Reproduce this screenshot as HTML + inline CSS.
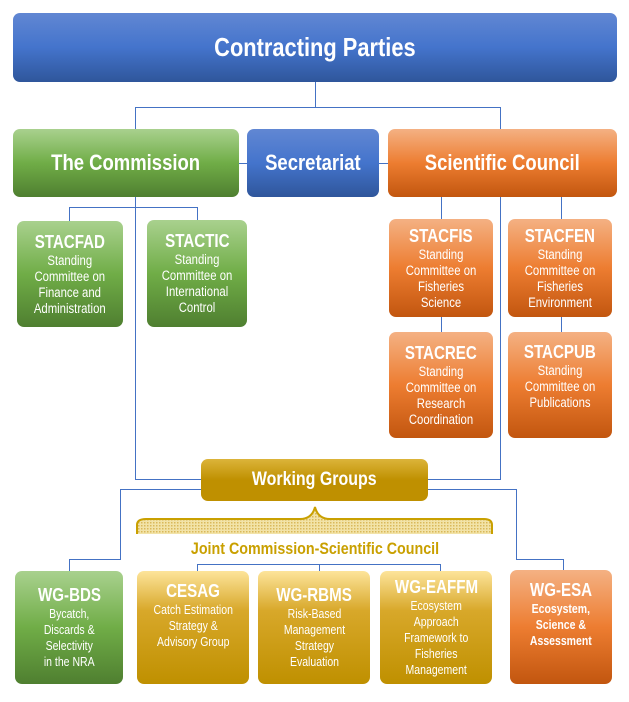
<!DOCTYPE html>
<html><head><meta charset="utf-8"><style>
body{margin:0;width:629px;height:702px;background:#fff;position:relative;overflow:hidden;font-family:"Liberation Sans Narrow","Liberation Sans",sans-serif;}
.b{position:absolute;border-radius:7px;color:#fff;text-align:center;box-sizing:border-box;display:flex;flex-direction:column;align-items:center;justify-content:center;font-weight:bold;}
.b span{display:inline-block;transform:scaleX(.84);white-space:nowrap;}
.blue{background:linear-gradient(#6187d3,#4474cc 50%,#2f569b);}
.green{background:linear-gradient(#a9d18e,#70ad47 50%,#4f7f30);}
.orange{background:linear-gradient(#f4b183,#ed7d31 50%,#c2560f);}
.gold{background:linear-gradient(#fde49a,#d8a82a 35%,#bf9000);}
.t{font-size:22px;}
.h{font-size:18px;}
.s{font-size:13.5px;font-weight:normal;line-height:16px;}
.l{position:absolute;background:#4472c4;}
</style></head><body>
<div class="l" style="left:315px;top:82px;width:1px;height:25px"></div>
<div class="l" style="left:135px;top:107px;width:366px;height:1px"></div>
<div class="l" style="left:135px;top:107px;width:1px;height:22px"></div>
<div class="l" style="left:500px;top:107px;width:1px;height:22px"></div>
<div class="l" style="left:239px;top:163px;width:149px;height:1px"></div>
<div class="l" style="left:135px;top:197px;width:1px;height:283px"></div>
<div class="l" style="left:135px;top:479px;width:66px;height:1px"></div>
<div class="l" style="left:69px;top:207px;width:129px;height:1px"></div>
<div class="l" style="left:69px;top:207px;width:1px;height:14px"></div>
<div class="l" style="left:197px;top:207px;width:1px;height:14px"></div>
<div class="l" style="left:500px;top:197px;width:1px;height:283px"></div>
<div class="l" style="left:428px;top:479px;width:73px;height:1px"></div>
<div class="l" style="left:441px;top:197px;width:1px;height:135px"></div>
<div class="l" style="left:561px;top:197px;width:1px;height:135px"></div>
<div class="l" style="left:120px;top:489px;width:81px;height:1px"></div>
<div class="l" style="left:120px;top:489px;width:1px;height:70px"></div>
<div class="l" style="left:69px;top:559px;width:52px;height:1px"></div>
<div class="l" style="left:69px;top:559px;width:1px;height:12px"></div>
<div class="l" style="left:428px;top:489px;width:88px;height:1px"></div>
<div class="l" style="left:516px;top:489px;width:1px;height:70px"></div>
<div class="l" style="left:516px;top:559px;width:47px;height:1px"></div>
<div class="l" style="left:563px;top:559px;width:1px;height:12px"></div>
<div class="l" style="left:197px;top:564px;width:243px;height:1px"></div>
<div class="l" style="left:197px;top:564px;width:1px;height:7px"></div>
<div class="l" style="left:319px;top:564px;width:1px;height:7px"></div>
<div class="l" style="left:440px;top:564px;width:1px;height:7px"></div>

<div class="b blue" style="left:13px;top:13px;width:604px;height:69px"><span style="font-size:26px">Contracting Parties</span></div>
<div class="b green" style="left:13px;top:129px;width:226px;height:68px"><span class="t">The Commission</span></div>
<div class="b blue" style="left:247px;top:129px;width:132px;height:68px"><span class="t">Secretariat</span></div>
<div class="b orange" style="left:388px;top:129px;width:229px;height:68px"><span class="t">Scientific Council</span></div>

<div class="b green" style="left:17px;top:221px;width:106px;height:106px"><span class="h">STACFAD</span><span class="s">Standing<br>Committee on<br>Finance and<br>Administration</span></div>
<div class="b green" style="left:147px;top:220px;width:100px;height:107px"><span class="h">STACTIC</span><span class="s">Standing<br>Committee on<br>International<br>Control</span></div>
<div class="b orange" style="left:389px;top:219px;width:104px;height:98px"><span class="h">STACFIS</span><span class="s">Standing<br>Committee on<br>Fisheries<br>Science</span></div>
<div class="b orange" style="left:508px;top:219px;width:104px;height:98px"><span class="h">STACFEN</span><span class="s">Standing<br>Committee on<br>Fisheries<br>Environment</span></div>
<div class="b orange" style="left:389px;top:332px;width:104px;height:106px"><span class="h">STACREC</span><span class="s">Standing<br>Committee on<br>Research<br>Coordination</span></div>
<div class="b orange" style="left:508px;top:332px;width:104px;height:106px;justify-content:flex-start;padding-top:10px"><span class="h">STACPUB</span><span class="s">Standing<br>Committee on<br>Publications</span></div>

<div class="b gold" style="left:201px;top:459px;width:227px;height:42px;background:linear-gradient(#dcb43a,#bf9000 50%)"><span style="font-size:19px">Working Groups</span></div>

<svg style="position:absolute;left:0;top:0" width="629" height="702">
<defs><pattern id="d" width="3" height="3" patternUnits="userSpaceOnUse"><rect width="3" height="3" fill="#f2e3a8"/><rect width="1.5" height="1.5" fill="#d9b85a"/></pattern></defs>
<path d="M137 534 L137 525 Q137 519 146 519 L300 519 Q312 519 315 507 Q318 519 330 519 L484 519 Q492 519 492 525 L492 534" fill="url(#d)" stroke="#c9a000" stroke-width="2"/>
<text x="315" y="554" text-anchor="middle" font-family="Liberation Sans Narrow, Liberation Sans, sans-serif" font-weight="bold" font-size="17" fill="#c9a000" transform="translate(315 0) scale(.84 1) translate(-315 0)">Joint Commission-Scientific Council</text>
</svg>

<div class="b green" style="left:15px;top:571px;width:108px;height:113px"><span class="h">WG-BDS</span><span class="s" style="font-size:12.5px">Bycatch,<br>Discards &amp;<br>Selectivity<br>in the NRA</span></div>
<div class="b gold" style="left:137px;top:571px;width:112px;height:113px;justify-content:flex-start;padding-top:10px"><span class="h">CESAG</span><span class="s" style="font-size:12.5px">Catch Estimation<br>Strategy &amp;<br>Advisory Group</span></div>
<div class="b gold" style="left:258px;top:571px;width:112px;height:113px"><span class="h">WG-RBMS</span><span class="s" style="font-size:12.5px">Risk-Based<br>Management<br>Strategy<br>Evaluation</span></div>
<div class="b gold" style="left:380px;top:571px;width:112px;height:113px"><span class="h">WG-EAFFM</span><span class="s" style="font-size:12.5px">Ecosystem<br>Approach<br>Framework to<br>Fisheries<br>Management</span></div>
<div class="b orange" style="left:510px;top:570px;width:102px;height:114px;justify-content:flex-start;padding-top:10px"><span class="h">WG-ESA</span><span class="s" style="font-size:12.5px;font-weight:bold">Ecosystem,<br>Science &amp;<br>Assessment</span></div>
</body></html>
